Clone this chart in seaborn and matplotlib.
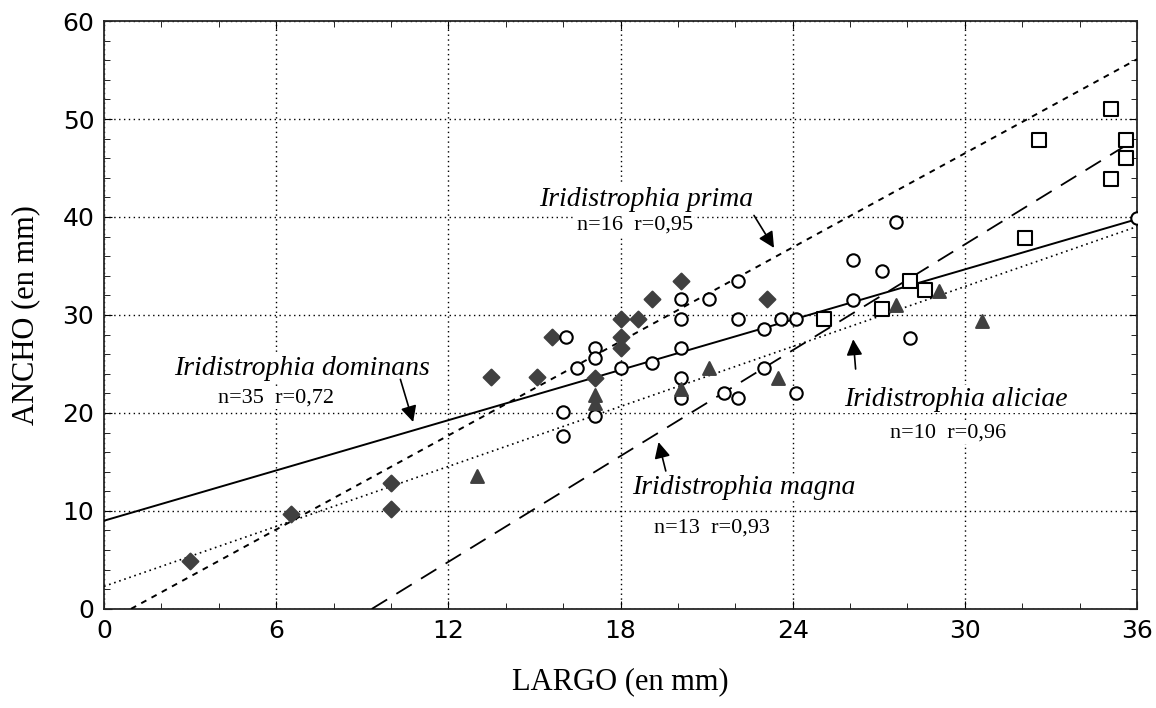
import numpy as np
import pandas as pd
import seaborn as sns
import matplotlib.pyplot as plt
from matplotlib.ticker import MultipleLocator

# Data
prima_x = [3.0, 6.5, 10.0, 10.0, 13.5, 15.1, 15.6, 17.1, 18.0, 18.0, 18.0, 18.6, 19.1, 20.1, 23.1]
prima_y = [4.9, 9.7, 12.8, 10.2, 23.7, 23.7, 27.7, 23.6, 29.6, 27.7, 26.6, 29.6, 31.6, 33.5, 31.6]

dominans_x = [16.1, 17.1, 17.1, 16.5, 16.0, 16.0, 17.1, 18.0, 20.1, 21.1, 22.1, 20.1, 22.1, 23.6, 24.1,
              23.0, 20.1, 19.1, 20.1, 20.1, 23.0, 21.6, 22.1, 24.1, 27.6, 26.1, 27.1, 26.1, 28.1, 36.0]
dominans_y = [27.7, 26.6, 25.6, 24.6, 20.1, 17.6, 19.7, 24.6, 31.6, 31.6, 33.5, 29.6, 29.6, 29.6, 29.6,
              28.6, 26.6, 25.1, 23.6, 21.5, 24.6, 22.0, 21.5, 22.0, 39.5, 35.6, 34.5, 31.5, 27.6, 39.9]

magna_x = [25.1, 27.1, 28.1, 28.6, 32.1, 32.6, 35.1, 35.6, 35.6, 35.1]
magna_y = [29.6, 30.6, 33.5, 32.5, 37.9, 47.9, 51.0, 47.9, 46.0, 43.9]

aliciae_x = [13.0, 17.1, 17.1, 20.1, 21.1, 23.5, 27.6, 29.1, 30.6]
aliciae_y = [13.6, 21.8, 21.0, 22.4, 24.6, 23.6, 31.0, 32.4, 29.4]

# regression lines: intercept, slope, x range
species = ['dominans', 'prima', 'magna', 'aliciae']
fit_icpt = [9.0, -1.5, -16.8, 2.3]
fit_slope = [0.855, 1.6, 1.80, 1.02]
fit_x0 = [0.0, 0.94, 9.33, 0.0]
fit_x1 = [36.0, 36.0, 35.8, 36.0]

df = pd.concat([
    pd.DataFrame({'species': 'prima', 'largo': prima_x, 'ancho': prima_y}),
    pd.DataFrame({'species': 'dominans', 'largo': dominans_x, 'ancho': dominans_y}),
    pd.DataFrame({'species': 'magna', 'largo': magna_x, 'ancho': magna_y}),
    pd.DataFrame({'species': 'aliciae', 'largo': aliciae_x, 'ancho': aliciae_y}),
])

# Styles
mk = {'prima': 'D', 'dominans': 'o', 'magna': 's', 'aliciae': '^'}
mkSize = {'prima': 65, 'dominans': 80, 'magna': 95, 'aliciae': 85}
mkFace = {'prima': '#404040', 'dominans': 'white', 'magna': 'white', 'aliciae': '#404040'}
mkEdge = {'prima': '#404040', 'dominans': 'black', 'magna': 'black', 'aliciae': '#404040'}
lnDash = {'dominans': '', 'prima': (3, 3), 'magna': (10, 6), 'aliciae': (1, 2.2)}
lnWidth = {'dominans': 1.4, 'prima': 1.4, 'magna': 1.3, 'aliciae': 1.2}

sns.set_style('ticks')
plt.rcParams['font.family'] = ['DejaVu Sans']
plt.rcParams['text.color'] = 'black'
plt.rcParams['xtick.color'] = 'black'
plt.rcParams['ytick.color'] = 'black'
plt.rcParams['axes.labelcolor'] = 'black'

fig = plt.figure(figsize=(11.56, 7.08), dpi=100)
ax = fig.add_axes([0.09, 0.14, 0.8936, 0.8303])

for i, sp in enumerate(species):
    xs = np.array([fit_x0[i], fit_x1[i]])
    ys = fit_icpt[i] + fit_slope[i] * xs
    sns.lineplot(x=xs, y=ys, ax=ax, color='black', lw=lnWidth[sp], dashes=False, zorder=3)
    if lnDash[sp]:
        ax.lines[-1].set_dashes(lnDash[sp])

for sp in ['prima', 'dominans', 'magna', 'aliciae']:
    sub = df[df.species == sp]
    sns.scatterplot(data=sub, x='largo', y='ancho', ax=ax, marker=mk[sp], s=mkSize[sp],
                    facecolor=mkFace[sp], edgecolor=mkEdge[sp], linewidth=1.5, zorder=4)

ax.set_xlim(0, 36)
ax.set_ylim(0, 60)
ax.xaxis.set_major_locator(MultipleLocator(6))
ax.xaxis.set_minor_locator(MultipleLocator(2))
ax.yaxis.set_major_locator(MultipleLocator(10))
ax.yaxis.set_minor_locator(MultipleLocator(2))
ax.tick_params(which='both', direction='in', top=True, right=True, labelsize=18, pad=7)
ax.tick_params(which='major', length=6)
ax.tick_params(which='minor', length=4)
ax.grid(True, which='major', ls=(0, (1, 2.5)), color='black', lw=1)
for s in ax.spines.values():
    s.set_linewidth(1.3)

ax.set_xlabel('LARGO (en mm)', family='Liberation Serif', fontsize=22, labelpad=18)
ax.set_ylabel('ANCHO (en mm)', family='Liberation Serif', fontsize=22, labelpad=16)

# Annotations
box = dict(facecolor='white', edgecolor='none', pad=1)
arr = dict(arrowstyle='-|>', color='black', lw=1.2, mutation_scale=24)
labels = [
    ('Iridistrophia dominans', 'n=35  r=0,72', (6.9, 24.5), (6.0, 21.5), (10.3, 23.7), (10.8, 18.8)),
    ('Iridistrophia prima', 'n=16  r=0,95', (18.9, 41.8), (18.5, 39.2), (22.6, 40.4), (23.4, 36.6)),
    ('Iridistrophia magna', 'n=13  r=0,93', (22.3, 12.4), (21.2, 8.3), (19.6, 13.8), (19.3, 17.3)),
    ('Iridistrophia aliciae', 'n=10  r=0,96', (29.7, 21.4), (29.4, 17.9), (26.2, 24.2), (26.1, 27.8)),
]
for name, stat, pName, pStat, pFrom, pTo in labels:
    ax.text(pName[0], pName[1], name, family='Liberation Serif', style='italic', fontsize=20,
            ha='center', va='center', bbox=box, zorder=5)
    ax.text(pStat[0], pStat[1], stat, family='Liberation Serif', fontsize=16,
            ha='center', va='center', bbox=box, zorder=5)
    ax.annotate('', xy=pTo, xytext=pFrom, arrowprops=arr, zorder=6)

fig.savefig('out.png', dpi=100)
